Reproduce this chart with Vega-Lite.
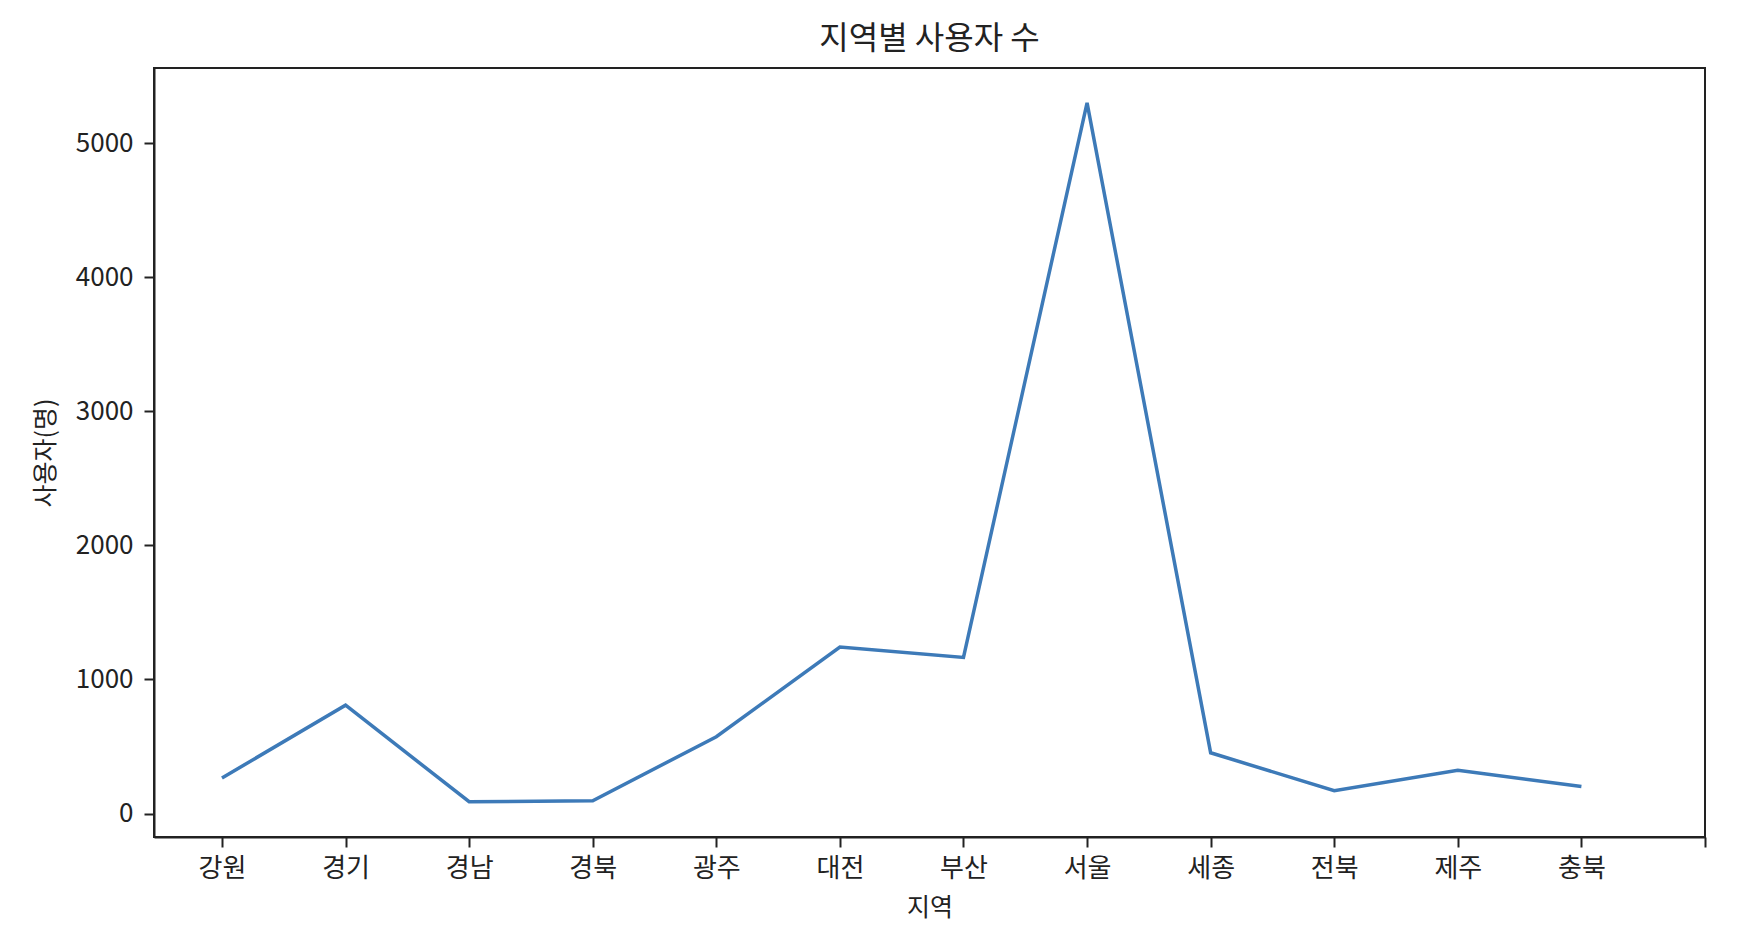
{
  "$schema": "https://vega.github.io/schema/vega-lite/v6.json",
  "width": 1551,
  "height": 769,
  "autosize": "none",
  "padding": {"left": 154, "top": 68, "right": 59, "bottom": 113},
  "background": "white",
  "config": {
    "view": {"stroke": "#222222", "strokeWidth": 2},
    "font": "Noto Sans CJK KR",
    "axis": {
      "labelFont": "Noto Sans CJK KR",
      "titleFont": "Noto Sans CJK KR",
      "labelFontSize": 26,
      "titleFontSize": 25,
      "titleFontWeight": "normal",
      "labelColor": "#222222",
      "titleColor": "#222222",
      "tickColor": "#222222",
      "domainColor": "#222222",
      "domainWidth": 2,
      "tickWidth": 2,
      "tickSize": 10,
      "labelPadding": 8,
      "grid": false
    }
  },
  "title": {
    "text": "지역별 사용자 수",
    "font": "Noto Sans CJK KR",
    "fontSize": 32,
    "fontWeight": "normal",
    "color": "#222222",
    "anchor": "middle",
    "offset": 12
  },
  "data": {
    "values": [
      {"지역": "강원", "사용자수": 265},
      {"지역": "경기", "사용자수": 808},
      {"지역": "경남", "사용자수": 88},
      {"지역": "경북", "사용자수": 95},
      {"지역": "광주", "사용자수": 573},
      {"지역": "대전", "사용자수": 1241},
      {"지역": "부산", "사용자수": 1164},
      {"지역": "서울", "사용자수": 5300},
      {"지역": "세종", "사용자수": 453},
      {"지역": "전북", "사용자수": 170},
      {"지역": "제주", "사용자수": 323},
      {"지역": "충북", "사용자수": 202}
    ]
  },
  "mark": {"type": "line", "color": "#3d7ab8", "strokeWidth": 3.5},
  "encoding": {
    "x": {
      "field": "지역",
      "type": "ordinal",
      "sort": null,
      "scale": {
        "type": "point",
        "domain": ["강원", "경기", "경남", "경북", "광주", "대전", "부산", "서울", "세종", "전북", "제주", "충북", ""],
        "padding": 0.275,
        "align": 1
      },
      "axis": {"title": "지역", "labelAngle": 0, "titlePadding": 14}
    },
    "y": {
      "field": "사용자수",
      "type": "quantitative",
      "scale": {"domain": [-175, 5560], "nice": false, "zero": false},
      "axis": {"title": "사용자(명)", "format": "d", "values": [0, 1000, 2000, 3000, 4000, 5000], "labelPadding": 11, "titlePadding": 17}
    }
  }
}
